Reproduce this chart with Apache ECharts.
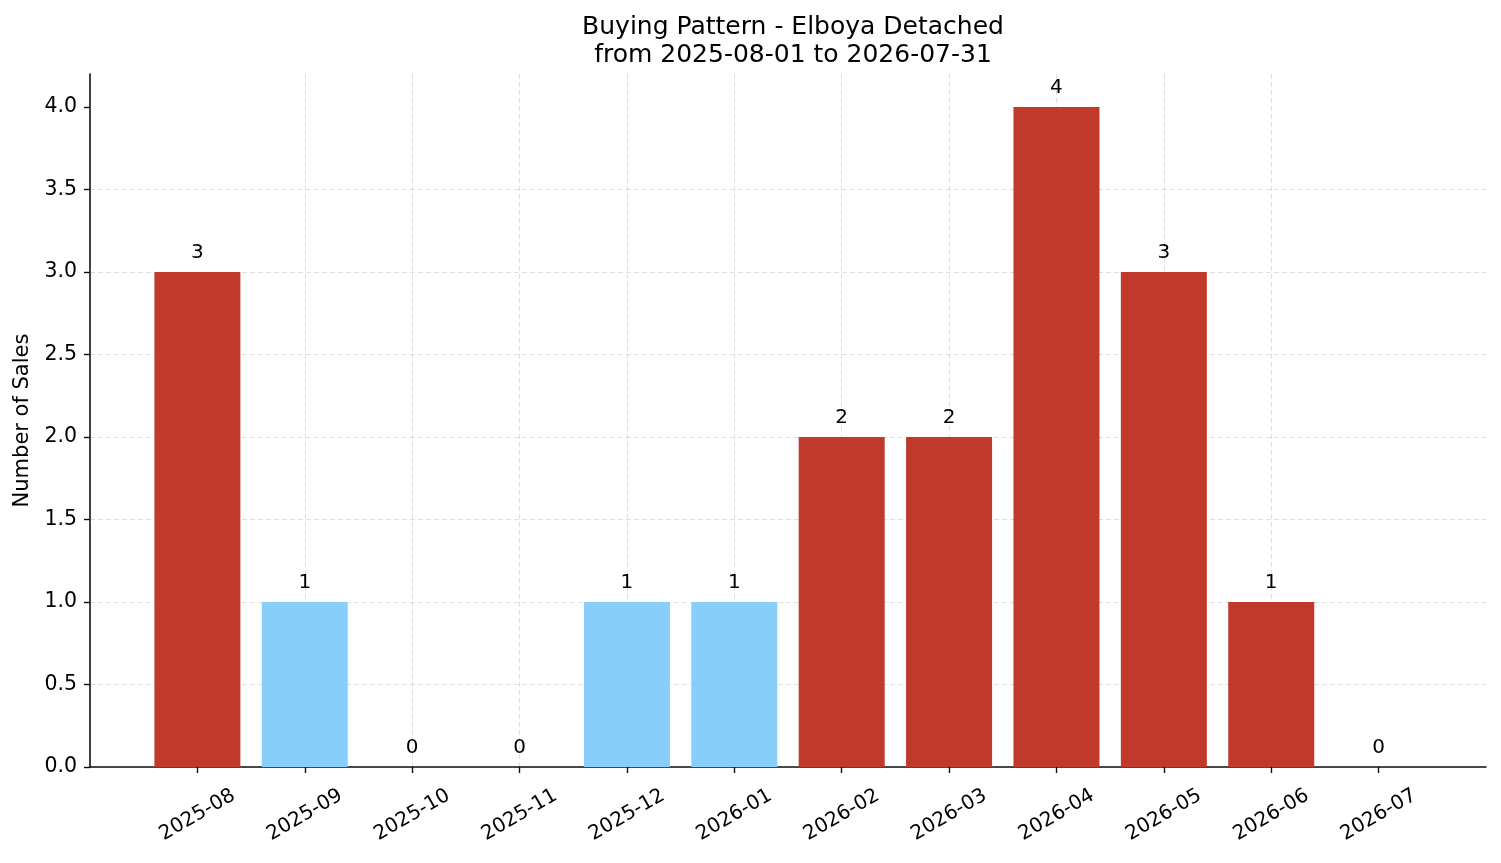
<!DOCTYPE html>
<html><head><meta charset="utf-8">
<script src="https://cdn.jsdelivr.net/npm/echarts@6/dist/echarts.min.js"></script>
<style>html,body{margin:0;padding:0;background:#fff}#c{width:1501px;height:863px}</style>
</head><body><div id="c"></div>
<script>
const months = ['2025-08','2025-09','2025-10','2025-11','2025-12','2026-01','2026-02','2026-03','2026-04','2026-05','2026-06','2026-07'];
const sales = [3,1,0,0,1,1,2,2,4,3,1,0];
const lightMonths = ['2025-09','2025-12','2026-01'];
const yTicks = [0,0.5,1,1.5,2,2.5,3,3.5,4];

const RED = '#c0392b', BLUE = '#87cefa';
const font = 'DejaVu Sans';
const chart = echarts.init(document.getElementById('c'));
const idx = months.map((m,i)=>i);
chart.setOption({
  animation:false,
  title:{text:'Buying Pattern - Elboya Detached\nfrom 2025-08-01 to 2026-07-31',left:788,top:8,textAlign:'center',
    textStyle:{fontFamily:font,fontSize:25,fontWeight:'normal',color:'#000',lineHeight:28}},
  grid:{left:90,right:15,top:74,bottom:96,containLabel:false,outerBoundsMode:'none'},
  xAxis:{type:'value',min:-1,max:12,interval:1,
    axisLine:{show:true,onZero:false,lineStyle:{color:'#111',width:1.6}},
    axisTick:{show:true,length:6,customValues:idx,lineStyle:{color:'#111',width:1.4}},
    axisLabel:{customValues:idx,formatter:v=>months[v]||'',rotate:30,align:'center',verticalAlign:'middle',margin:48,
      fontFamily:font,fontSize:20,color:'#000'},
    splitLine:{show:true,showMinLine:false,showMaxLine:false,lineStyle:{color:'#d6d6d6',type:[5,3],width:0.8}}
  },
  yAxis:{type:'value',min:0,max:4.2,interval:0.5,
    name:'Number of Sales',nameLocation:'middle',nameGap:57,nameTextStyle:{fontFamily:font,fontSize:21,color:'#000'},
    axisLine:{show:true,onZero:false,lineStyle:{color:'#111',width:1.6}},
    axisTick:{show:true,length:6,customValues:yTicks,lineStyle:{color:'#111',width:1.4}},
    axisLabel:{customValues:yTicks,formatter:v=>v.toFixed(1),fontFamily:font,fontSize:20.5,color:'#000',margin:13},
    splitLine:{show:true,showMaxLine:false,lineStyle:{color:'#d6d6d6',type:[5,3],width:0.8}}
  },
  series:[{type:'bar',barWidth:86,z:1,
    data:sales.map((v,i)=>({value:[i,v],itemStyle:{color:lightMonths.includes(months[i])?BLUE:RED}})),
    label:{show:true,position:'top',distance:9,formatter:p=>String(p.value[1]),fontFamily:font,fontSize:20,color:'#000'}
  }]
});
</script></body></html>
